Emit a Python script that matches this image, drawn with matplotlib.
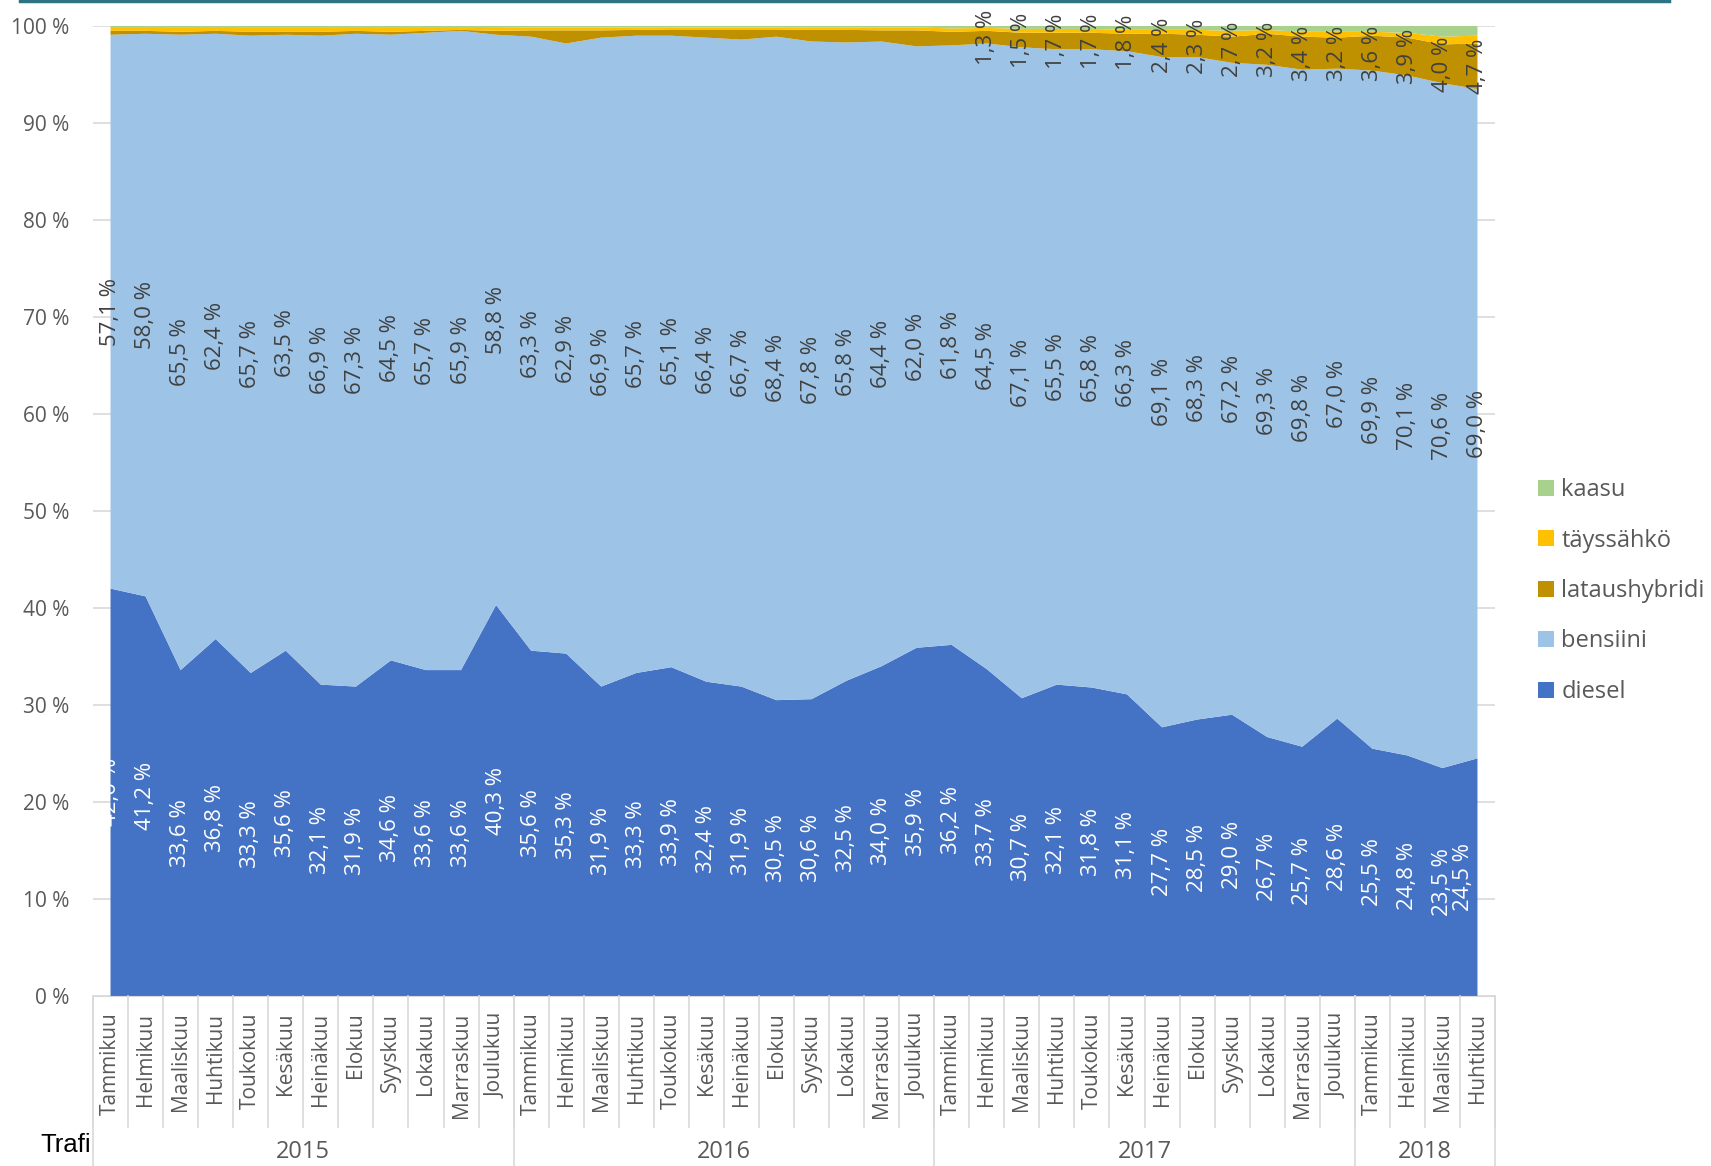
import numpy as np
import matplotlib.pyplot as plt
from matplotlib.patches import Patch
from matplotlib.lines import Line2D
import matplotlib.transforms as mtransforms

months = ['Tammikuu', 'Helmikuu', 'Maaliskuu', 'Huhtikuu', 'Toukokuu', 'Kesäkuu',
          'Heinäkuu', 'Elokuu', 'Syyskuu', 'Lokakuu', 'Marraskuu', 'Joulukuu']
years = ['2015', '2016', '2017', '2018']
months_per_year = [12, 12, 12, 4]
labels = [m for y, n in zip(years, months_per_year) for m in months[:n]]

diesel = [42.0, 41.2, 33.6, 36.8, 33.3, 35.6, 32.1, 31.9, 34.6, 33.6, 33.6, 40.3,
          35.6, 35.3, 31.9, 33.3, 33.9, 32.4, 31.9, 30.5, 30.6, 32.5, 34.0, 35.9,
          36.2, 33.7, 30.7, 32.1, 31.8, 31.1, 27.7, 28.5, 29.0, 26.7, 25.7, 28.6,
          25.5, 24.8, 23.5, 24.5]
bensiini = [57.1, 58.0, 65.5, 62.4, 65.7, 63.5, 66.9, 67.3, 64.5, 65.7, 65.9, 58.8,
            63.3, 62.9, 66.9, 65.7, 65.1, 66.4, 66.7, 68.4, 67.8, 65.8, 64.4, 62.0,
            61.8, 64.5, 67.1, 65.5, 65.8, 66.3, 69.1, 68.3, 67.2, 69.3, 69.8, 67.0,
            69.9, 70.1, 70.6, 69.0]
lataushybridi = [0.4, 0.3, 0.3, 0.3, 0.4, 0.3, 0.4, 0.3, 0.3, 0.2, 0.1, 0.4,
                 0.65, 1.35, 0.75, 0.6, 0.65, 0.85, 1.05, 0.75, 1.2, 1.3, 1.15, 1.65,
                 1.4, 1.3, 1.5, 1.7, 1.7, 1.8, 2.4, 2.3, 2.7, 3.2, 3.4, 3.2,
                 3.6, 3.9, 4.0, 4.7]
tayssahko = [0.3, 0.3, 0.4, 0.3, 0.4, 0.4, 0.4, 0.3, 0.4, 0.3, 0.2, 0.3,
             0.3, 0.3, 0.3, 0.25, 0.2, 0.2, 0.2, 0.2, 0.25, 0.25, 0.3, 0.3,
             0.35, 0.3, 0.4, 0.4, 0.4, 0.4, 0.4, 0.5, 0.6, 0.4, 0.5, 0.6,
             0.4, 0.5, 0.8, 0.8]
kaasu = [0.2] * 12 + [0.15] * 12 + \
        [0.25, 0.2, 0.3, 0.3, 0.3, 0.4, 0.4, 0.4, 0.5, 0.4, 0.6, 0.6,
         0.6, 0.7, 1.1, 1.0]
phev_label_from = 25  # labels shown from Helmikuu 2017

names = ['diesel', 'bensiini', 'lataushybridi', 'täyssähkö', 'kaasu']
colors = ['#4472C4', '#9DC3E6', '#BF9000', '#FFC000', '#A9D18E']

series = np.array([diesel, bensiini, lataushybridi, tayssahko, kaasu])
share = series / series.sum(axis=0) * 100
x = np.arange(len(labels))

font = 'Open Sans'
gray = '#595959'

fig = plt.figure(figsize=(17.11, 11.66), dpi=100)
ax = fig.add_axes([93 / 1711, 170 / 1166, 1402 / 1711, 970 / 1166])

polys = ax.stackplot(x, share, colors=colors, zorder=2)
ax.set_xlim(-0.5, len(x) - 0.5)
ax.set_ylim(0, 100)
ax.set_yticks(np.arange(0, 101, 10))
ax.set_yticklabels([f'{v} %' for v in range(0, 101, 10)], fontfamily=font,
                   fontsize=15, color=gray)
ax.grid(axis='y', color='#d9d9d9', lw=1.2, zorder=0)
ax.set_axisbelow(True)
for s in ['left', 'right', 'top']:
    ax.spines[s].set_visible(False)
ax.spines['bottom'].set_color('#d9d9d9')
ax.tick_params(axis='y', length=0, pad=17)

ax.set_xticks(x)
ax.set_xticklabels(labels, rotation=90, fontfamily=font, fontsize=15, color=gray)
ax.tick_params(axis='x', length=0, pad=12)


def fmt(v):
    return f'{v:.1f} %'.replace('.', ',')


# data labels, centred in each band
cum = np.cumsum(share, axis=0) - share / 2
last = len(x) - 1
for i in x:
    # Excel pulls the last diesel label inside the plot area
    xd = i - 0.4 if i == last else i
    ax.text(xd, cum[0, i], fmt(diesel[i]), rotation=90,
            ha='center', va='center', color='white', fontsize=16, fontfamily=font, zorder=5)
    ax.text(i, cum[1, i], fmt(bensiini[i]), rotation=90,
            ha='center', va='center', color='#404040', fontsize=16, fontfamily=font, zorder=5)
    if i >= phev_label_from:
        ax.text(i, cum[2, i], fmt(lataushybridi[i]), rotation=90,
                ha='center', va='center', color='#404040', fontsize=16, fontfamily=font,
                zorder=5, clip_on=False)

# category separators and year groups
trans = mtransforms.blended_transform_factory(ax.transData, ax.transAxes)
for k in range(len(x) + 1):
    ax.plot([k - 0.5, k - 0.5], [0, -0.135], transform=trans, color='#d9d9d9',
            lw=1.2, clip_on=False, zorder=3)
start = 0
for yr, n in zip(years, months_per_year):
    ax.plot([start - 0.5, start - 0.5], [0, -0.2], transform=trans, color='#d9d9d9',
            lw=1.2, clip_on=False, zorder=3)
    ax.text(start + (n - 1) / 2, -0.161, yr, transform=trans, ha='center', va='center',
            fontsize=17, color=gray, fontfamily=['Liberation Sans Narrow', 'Open Sans'])
    start += n
ax.plot([start - 0.5, start - 0.5], [0, -0.2], transform=trans, color='#d9d9d9',
        lw=1.2, clip_on=False, zorder=3)

fig.text(40 / 1711, 21 / 1166, 'Trafi', fontsize=18.5, fontfamily='Liberation Sans',
         ha='left', va='center', color='black', zorder=0)

fig.add_artist(Line2D([20 / 1711, 1669 / 1711], [0.9995, 0.9995], color='#2E7384', lw=2.5))

handles = [Patch(facecolor=c, edgecolor='none') for c in colors][::-1]
fig.legend(handles, names[::-1], loc='center left', bbox_to_anchor=(1538 / 1711, 575 / 1166),
           frameon=False, prop={'family': font, 'size': 17}, labelcolor=gray,
           handlelength=0.68, handleheight=0.68, handletextpad=0.3,
           labelspacing=1.12, borderpad=0, borderaxespad=0)

fig.savefig('out.png', dpi=100)
